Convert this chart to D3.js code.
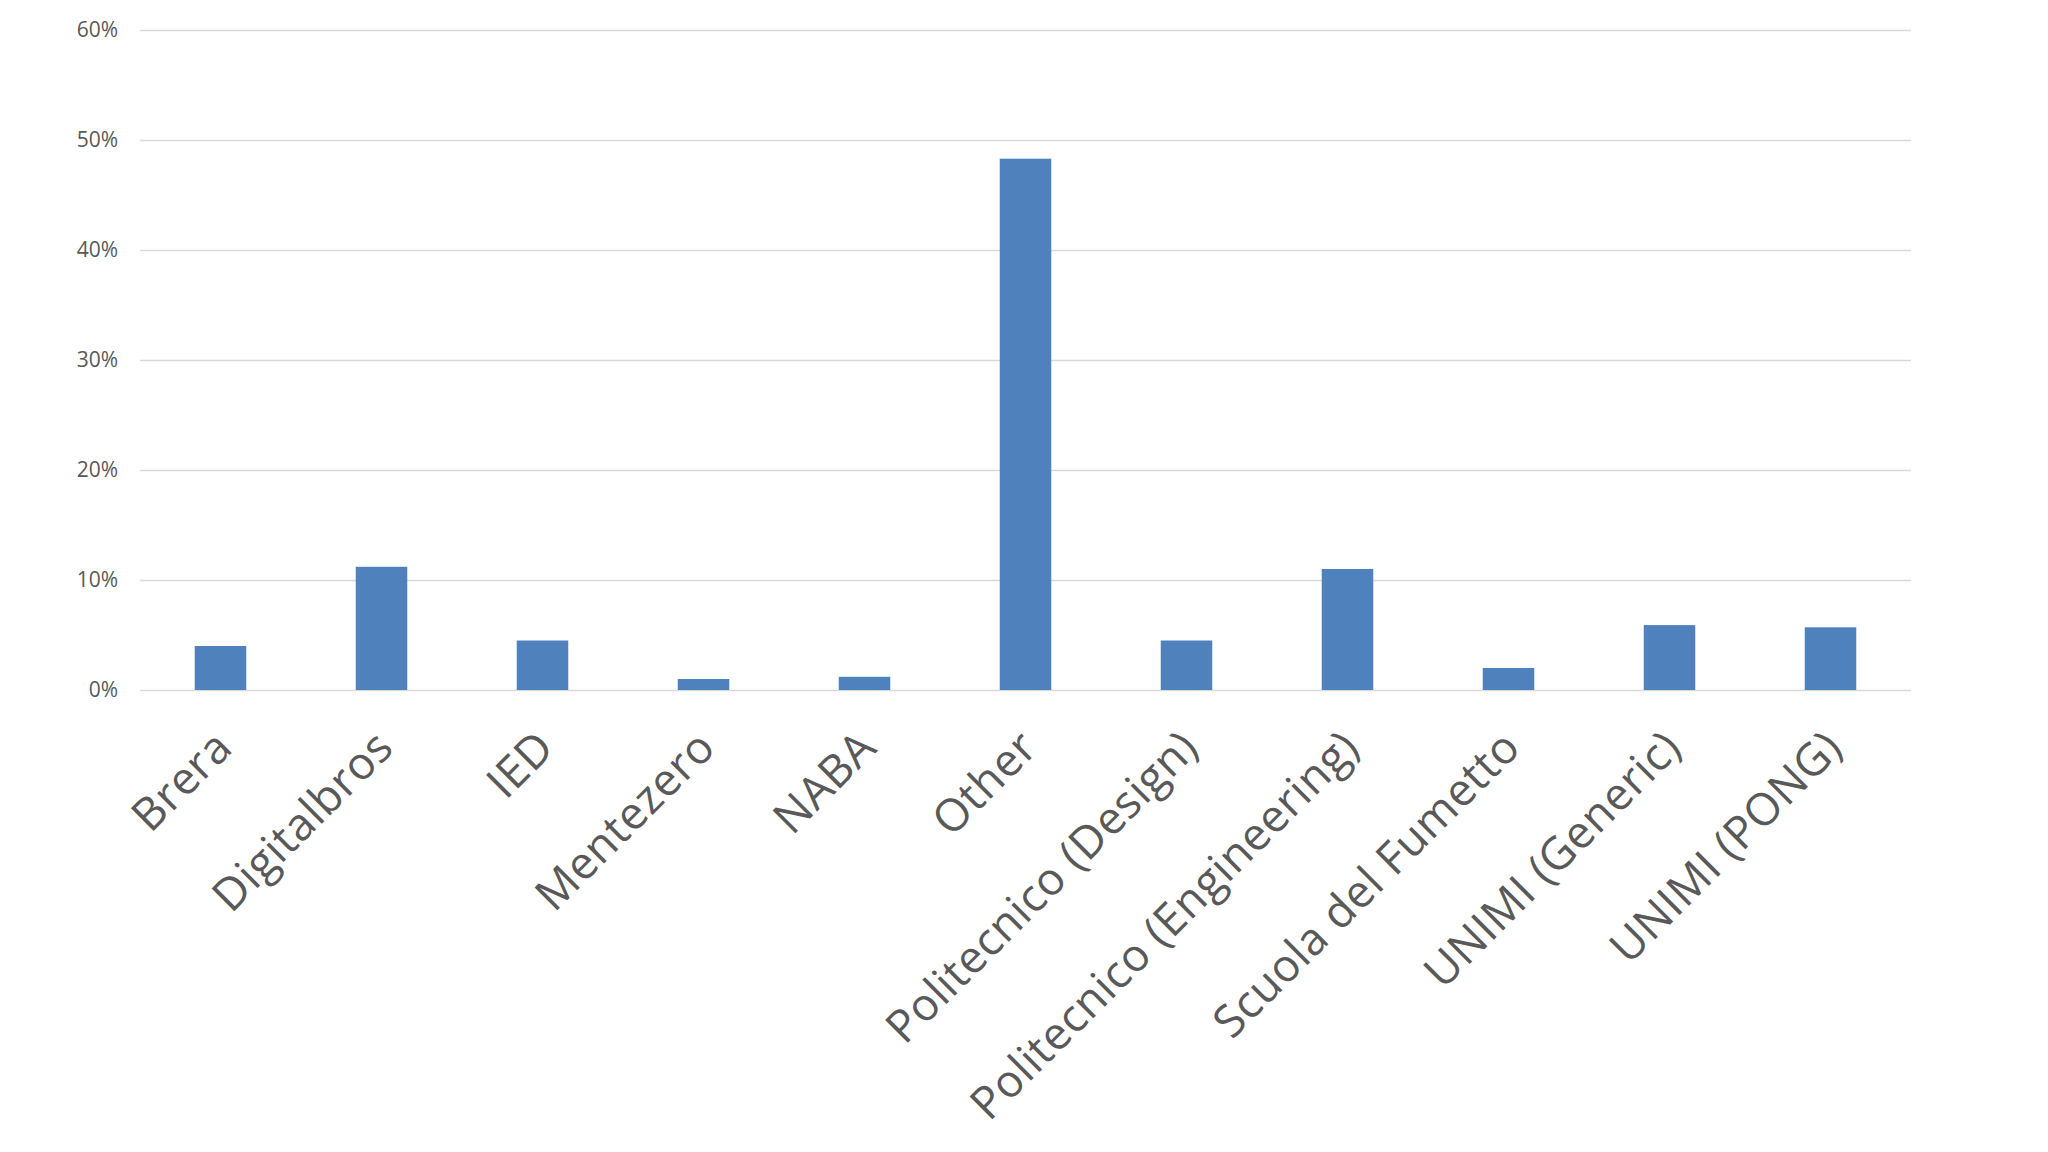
<!DOCTYPE html>
<html>
<head>
<meta charset="utf-8">
<script src="https://cdn.jsdelivr.net/npm/d3@7"></script>
<style>
  body { margin: 0; background: #fff; }
  text { font-family: "Open Sans", sans-serif; }
</style>
</head>
<body>
<div id="chart"></div>
<script>
// categories and values (percent)
const categories = ["Brera", "Digitalbros", "IED", "Mentezero", "NABA", "Other",
    "Politecnico (Design)", "Politecnico (Engineering)", "Scuola del Fumetto",
    "UNIMI (Generic)", "UNIMI (PONG)"];
const values = [4.0, 11.2, 4.5, 1.0, 1.2, 48.3, 4.5, 11.0, 2.0, 5.9, 5.7];
const yTicks = [0, 10, 20, 30, 40, 50, 60];

const W = 2048, H = 1152;
const margin = { top: 30, right: 137, bottom: 462, left: 140 };
const width = W - margin.left - margin.right;
const height = H - margin.top - margin.bottom;

const x = d3.scaleBand().domain(categories).range([0, width]).paddingInner(0.68).paddingOuter(0.34);
const y = d3.scaleLinear().domain([0, 60]).range([height, 0]);

const svg = d3.select("#chart").append("svg").attr("width", W).attr("height", H);
const g = svg.append("g").attr("transform", `translate(${margin.left},${margin.top})`);

// gridlines + y labels
g.append("g")
 .call(d3.axisLeft(y).tickValues(yTicks).tickSize(-width).tickFormat(d => d + "%").tickPadding(22))
 .call(a => a.select(".domain").remove())
 .call(a => a.selectAll("line").attr("stroke", "#d9d9d9").attr("stroke-width", 1.5))
 .call(a => a.selectAll("text").attr("fill", "#595959").style("font-size", "21px"));

// bars
g.selectAll("rect").data(values).join("rect")
 .attr("x", (d, i) => x(categories[i]))
 .attr("y", d => y(d))
 .attr("width", x.bandwidth())
 .attr("height", d => height - y(d))
 .attr("fill", "#4f81bd");

// rotated category labels
g.append("g").selectAll("text").data(categories).join("text")
 .attr("transform", d => `translate(${x(d) + x.bandwidth() / 2 + 14},${height + 60}) rotate(-45)`)
 .attr("text-anchor", "end")
 .attr("fill", "#595959")
 .style("font-size", "45px")
 .style("letter-spacing", "0.5px")
 .text(d => d);
</script>
</body>
</html>
